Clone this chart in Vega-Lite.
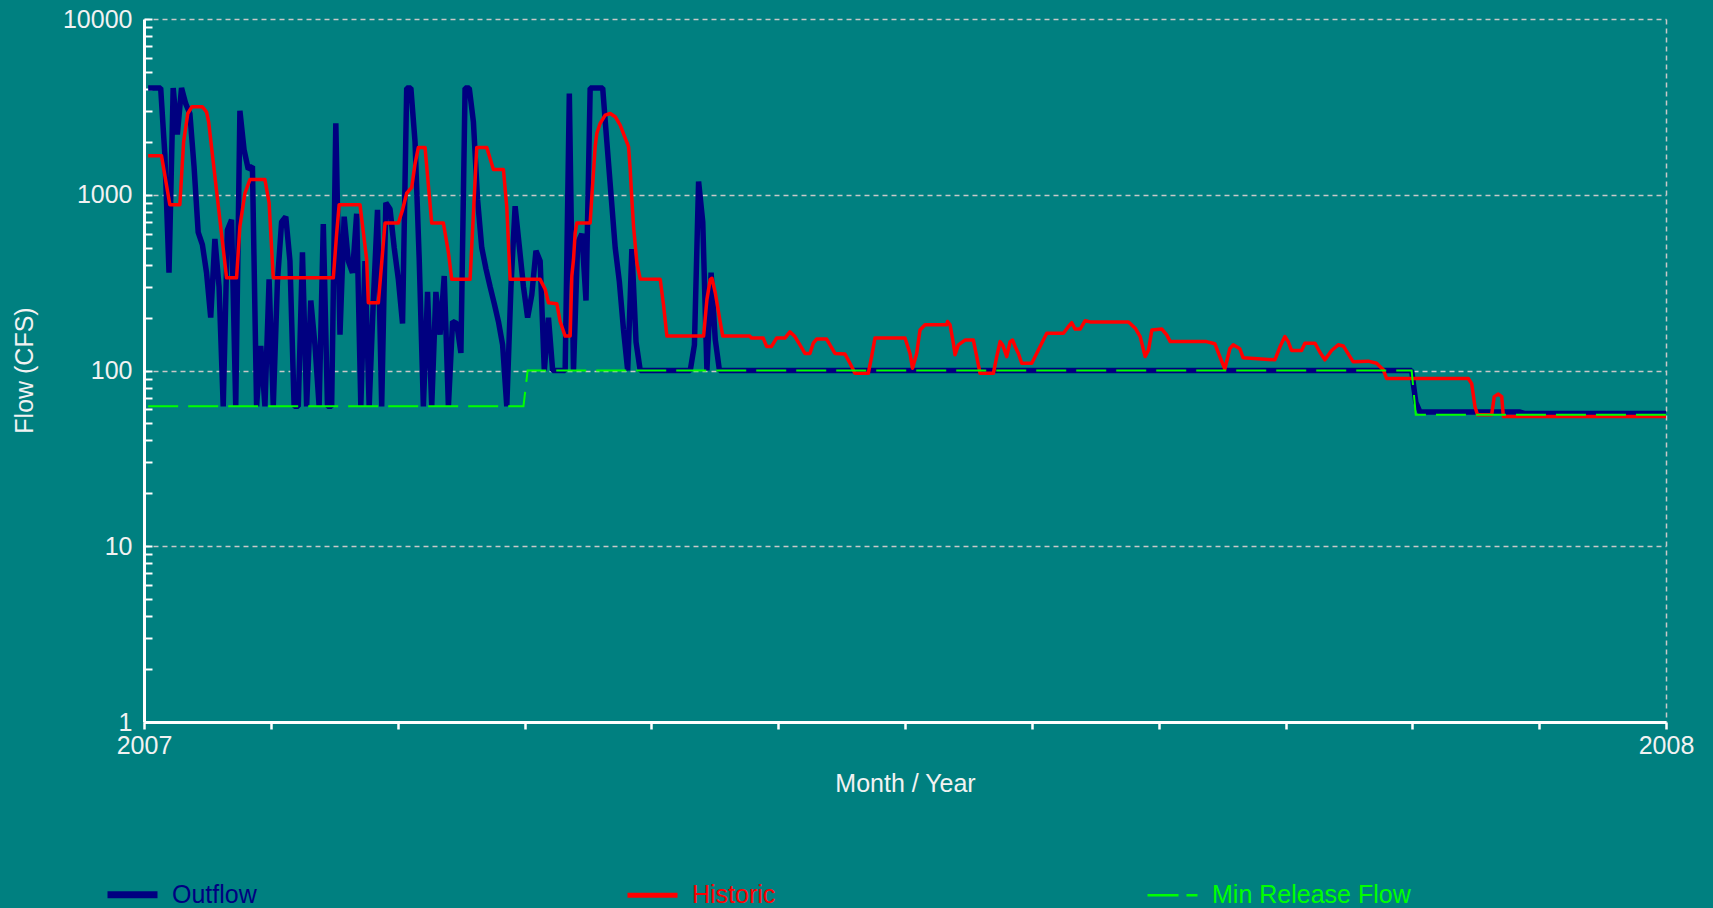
{
"$schema": "https://vega.github.io/schema/vega-lite/v6.json",
"width": 1522, "height": 703,
"autosize": {"type": "none"},
"padding": {"left": 144, "top": 19, "right": 47, "bottom": 186},
"background": "#008080",
"config": {"view": {"stroke": null}, "font": "Liberation Sans"},
"datasets": {
"outflow": [
{"day":1,"flow":4050},{"day":2,"flow":4050},{"day":3,"flow":4050},{"day":4,"flow":4050},{"day":5,"flow":1700},{"day":6,"flow":360},{"day":7,"flow":4050},{"day":8,"flow":2200},{"day":9,"flow":4050},{"day":10,"flow":3300},
{"day":11,"flow":2900},{"day":12,"flow":1450},{"day":13,"flow":610},{"day":14,"flow":520},{"day":15,"flow":360},{"day":16,"flow":200},{"day":17,"flow":560},{"day":18,"flow":300},{"day":19,"flow":62.5},{"day":20,"flow":630},
{"day":21,"flow":720},{"day":22,"flow":62.5},{"day":23,"flow":3000},{"day":24,"flow":1800},{"day":25,"flow":1400},{"day":26,"flow":1450},{"day":27,"flow":62.5},{"day":28,"flow":138},{"day":29,"flow":62.5},{"day":30,"flow":330},
{"day":31,"flow":62.5},{"day":32,"flow":320},{"day":33,"flow":700},{"day":34,"flow":750},{"day":35,"flow":420},{"day":36,"flow":62.5},{"day":37,"flow":62.5},{"day":38,"flow":470},{"day":39,"flow":62.5},{"day":40,"flow":250},
{"day":41,"flow":140},{"day":42,"flow":62.5},{"day":43,"flow":680},{"day":44,"flow":62.5},{"day":45,"flow":62.5},{"day":46,"flow":2550},{"day":47,"flow":160},{"day":48,"flow":750},{"day":49,"flow":420},{"day":50,"flow":360},
{"day":51,"flow":780},{"day":52,"flow":62.5},{"day":53,"flow":420},{"day":54,"flow":62.5},{"day":55,"flow":250},{"day":56,"flow":820},{"day":57,"flow":62.5},{"day":58,"flow":900},{"day":59,"flow":830},{"day":60,"flow":500},
{"day":61,"flow":330},{"day":62,"flow":185},{"day":63,"flow":4050},{"day":64,"flow":4050},{"day":65,"flow":2000},{"day":66,"flow":430},{"day":67,"flow":62.5},{"day":68,"flow":280},{"day":69,"flow":62.5},{"day":70,"flow":280},
{"day":71,"flow":160},{"day":72,"flow":345},{"day":73,"flow":62.5},{"day":74,"flow":190},{"day":75,"flow":185},{"day":76,"flow":126},{"day":77,"flow":4050},{"day":78,"flow":4050},{"day":79,"flow":2600},{"day":80,"flow":935},
{"day":81,"flow":500},{"day":82,"flow":380},{"day":83,"flow":300},{"day":84,"flow":240},{"day":85,"flow":190},{"day":86,"flow":140},{"day":87,"flow":62.5},{"day":88,"flow":300},{"day":89,"flow":860},{"day":90,"flow":510},
{"day":91,"flow":300},{"day":92,"flow":200},{"day":93,"flow":270},{"day":94,"flow":480},{"day":95,"flow":420},{"day":96,"flow":100},{"day":97,"flow":200},{"day":98,"flow":100},{"day":101,"flow":100},{"day":102,"flow":3770},
{"day":103,"flow":100},{"day":104,"flow":530},{"day":105,"flow":600},{"day":106,"flow":250},{"day":107,"flow":4050},{"day":110,"flow":4050},{"day":111,"flow":2000},{"day":112,"flow":1000},{"day":113,"flow":500},{"day":114,"flow":320},
{"day":115,"flow":170},{"day":116,"flow":100},{"day":117,"flow":490},{"day":118,"flow":145},{"day":119,"flow":100},{"day":131,"flow":100},{"day":132,"flow":140},{"day":133,"flow":1190},{"day":134,"flow":700},{"day":135,"flow":100},
{"day":136,"flow":360},{"day":137,"flow":150},{"day":138,"flow":100},{"day":304,"flow":100},{"day":305,"flow":66},{"day":306,"flow":58},{"day":330,"flow":58},{"day":331,"flow":57},{"day":365,"flow":57}
],
"historic": [
{"day":1,"flow":1665},{"day":4.2,"flow":1665},{"day":6.2,"flow":877},{"day":8.6,"flow":877},{"day":9.5,"flow":2000},{"day":10.5,"flow":2900},{"day":11.5,"flow":3170},{"day":14,"flow":3170},{"day":15,"flow":2950},{"day":15.5,"flow":2600},
{"day":19.8,"flow":337},{"day":22.2,"flow":337},{"day":23,"flow":660},{"day":24.2,"flow":1020},{"day":25.4,"flow":1220},{"day":29,"flow":1220},{"day":30,"flow":900},{"day":31,"flow":337},{"day":45.4,"flow":337},{"day":46.2,"flow":600},
{"day":46.8,"flow":877},{"day":51.8,"flow":877},{"day":53.4,"flow":428},{"day":53.8,"flow":243},{"day":56.2,"flow":243},{"day":57.8,"flow":690},{"day":61,"flow":690},{"day":62,"flow":820},{"day":63,"flow":1020},{"day":64.2,"flow":1100},
{"day":65,"flow":1500},{"day":65.8,"flow":1860},{"day":67.4,"flow":1860},{"day":69,"flow":690},{"day":71.8,"flow":690},{"day":73,"flow":470},{"day":73.8,"flow":330},{"day":78.2,"flow":330},{"day":79.8,"flow":1860},{"day":82.2,"flow":1860},
{"day":83.8,"flow":1390},{"day":86.2,"flow":1390},{"day":87,"flow":850},{"day":87.8,"flow":330},{"day":95,"flow":330},{"day":96.2,"flow":290},{"day":97,"flow":243},{"day":99,"flow":240},{"day":99.8,"flow":190},{"day":101,"flow":157},
{"day":102.2,"flow":157},{"day":102.6,"flow":345},{"day":103,"flow":428},{"day":103.4,"flow":606},{"day":103.8,"flow":690},{"day":107,"flow":691},{"day":107.4,"flow":978},{"day":108.2,"flow":1880},{"day":108.6,"flow":2240},{"day":109.4,"flow":2550},
{"day":110.6,"flow":2840},{"day":111.8,"flow":2900},{"day":113,"flow":2780},{"day":114.2,"flow":2490},{"day":115.4,"flow":2100},{"day":116.2,"flow":1880},{"day":116.6,"flow":1390},{"day":117,"flow":937},{"day":117.4,"flow":661},{"day":118.2,"flow":410},
{"day":119,"flow":332},{"day":123.8,"flow":330},{"day":124.6,"flow":235},{"day":125.4,"flow":157},{"day":134.2,"flow":157},{"day":135,"flow":254},{"day":135.8,"flow":330},{"day":136.2,"flow":335},{"day":137,"flow":277},{"day":138.2,"flow":188},
{"day":138.8,"flow":157},{"day":145.3,"flow":157},{"day":145.7,"flow":153},{"day":148.5,"flow":153},{"day":149.3,"flow":137},{"day":150.5,"flow":137},{"day":151.7,"flow":153},{"day":153.7,"flow":153},{"day":154.9,"flow":166},{"day":156.1,"flow":156},
{"day":157.3,"flow":140},{"day":158.5,"flow":125},{"day":159.7,"flow":125},{"day":160.5,"flow":143},{"day":161.3,"flow":151},{"day":163.7,"flow":151},{"day":164.5,"flow":140},{"day":165.7,"flow":125},{"day":168.1,"flow":124},{"day":169.3,"flow":110},
{"day":170.5,"flow":96.4},{"day":173.7,"flow":96.4},{"day":174.5,"flow":120},{"day":175.3,"flow":153},{"day":182.5,"flow":153},{"day":183.7,"flow":125},{"day":184.3,"flow":103},{"day":185.3,"flow":125},{"day":186.1,"flow":170},{"day":187.3,"flow":182},
{"day":192.5,"flow":182},{"day":192.7,"flow":190},{"day":193.3,"flow":182},{"day":194.1,"flow":143},{"day":194.5,"flow":123},{"day":195.3,"flow":140},{"day":196.9,"flow":149},{"day":198.9,"flow":149},{"day":199.7,"flow":120},{"day":200.5,"flow":96.4},
{"day":203.7,"flow":96.4},{"day":204.5,"flow":120},{"day":205.3,"flow":146},{"day":205.9,"flow":140},{"day":206.9,"flow":120},{"day":207.7,"flow":146},{"day":208.3,"flow":149},{"day":208.9,"flow":137},{"day":209.7,"flow":125},{"day":210.5,"flow":110},
{"day":212.9,"flow":110},{"day":213.7,"flow":120},{"day":214.9,"flow":137},{"day":216.1,"flow":156},{"day":216.5,"flow":163},{"day":220.5,"flow":163},{"day":221.7,"flow":178},{"day":222.5,"flow":187},{"day":223.3,"flow":172},{"day":224.5,"flow":172},
{"day":225.7,"flow":192},{"day":226.9,"flow":189},{"day":236.1,"flow":189},{"day":237.7,"flow":174},{"day":238.9,"flow":156},{"day":240.1,"flow":120},{"day":240.9,"flow":131},{"day":241.7,"flow":170},{"day":244.1,"flow":172},{"day":245.3,"flow":159},
{"day":246.1,"flow":146},{"day":254.8,"flow":146},{"day":256.8,"flow":142},{"day":258,"flow":120},{"day":259.2,"flow":102},{"day":260.4,"flow":133},{"day":261.2,"flow":140},{"day":262.8,"flow":133},{"day":263.6,"flow":118},{"day":271.2,"flow":115},
{"day":272.4,"flow":136},{"day":273.6,"flow":156},{"day":274.4,"flow":146},{"day":275.2,"flow":130},{"day":277.6,"flow":130},{"day":278.4,"flow":143},{"day":280.8,"flow":143},{"day":282,"flow":127},{"day":283.2,"flow":115},{"day":284.8,"flow":130},
{"day":286.4,"flow":140},{"day":287.6,"flow":138},{"day":289.2,"flow":120},{"day":290,"flow":112},{"day":293.6,"flow":113},{"day":295.6,"flow":110},{"day":297.2,"flow":101},{"day":298,"flow":90},{"day":317.6,"flow":90},{"day":318.4,"flow":84},
{"day":319.2,"flow":62},{"day":319.8,"flow":56},{"day":323.2,"flow":56},{"day":323.8,"flow":71},{"day":324.8,"flow":73.5},{"day":325.6,"flow":71},{"day":326,"flow":54.7},{"day":365,"flow":54.7}
],
"minrelease": [
{"day":1,"flow":62.5},{"day":91,"flow":62.5},{"day":92,"flow":100},{"day":304,"flow":100},{"day":305,"flow":56},{"day":365,"flow":56}
]
},
"encoding": {
"x": {"field": "day", "type": "quantitative",
 "scale": {"domain": [0, 365], "nice": false, "zero": false},
 "axis": {"values": [0, 30.4167, 60.8333, 91.25, 121.6667, 152.0833, 182.5, 212.9167, 243.3333, 273.75, 304.1667, 334.5833, 365],
  "labelExpr": "datum.value == 0 ? '2007' : (datum.value == 365 ? '2008' : '')",
  "labelFlush": false, "labelOverlap": false, "labelFontSize": 25, "labelColor": "#f2f2f2", "labelPadding": 4,
  "tickSize": 7, "tickWidth": 2.5, "tickColor": "#ffffff", "domainColor": "#ffffff", "domainWidth": 3,
  "grid": true, "gridColor": "#c8c8c8", "gridDash": [5, 4], "gridWidth": 1.5,
  "gridOpacity": {"condition": {"test": "datum.value == 365", "value": 1}, "value": 0},
  "title": "Month / Year", "titleFontSize": 25, "titleFontWeight": "normal", "titleColor": "#f2f2f2",
  "titleX": 761, "titleY": 61, "titleBaseline": "middle", "titleAlign": "center"}},
"y": {"field": "flow", "type": "quantitative",
 "scale": {"type": "log", "domain": [1, 10000], "nice": false},
 "axis": {"values": [1,2,3,4,5,6,7,8,9,10,20,30,40,50,60,70,80,90,100,200,300,400,500,600,700,800,900,1000,2000,3000,4000,5000,6000,7000,8000,9000,10000],
  "labelExpr": "indexof([1,10,100,1000,10000], datum.value) >= 0 ? format(datum.value, 'd') : ''",
  "labelOverlap": false, "labelFontSize": 25, "labelColor": "#f2f2f2", "labelPadding": 20,
  "tickSize": -8, "tickWidth": 2, "tickColor": "#ffffff", "domainColor": "#ffffff", "domainWidth": 3,
  "grid": true, "gridColor": "#c8c8c8", "gridDash": [5, 4], "gridWidth": 1.5,
  "gridOpacity": {"condition": {"test": "indexof([10,100,1000,10000], datum.value) >= 0", "value": 1}, "value": 0},
  "title": "Flow (CFS)", "titleFontSize": 25, "titleFontWeight": "normal", "titleColor": "#f2f2f2",
  "titleX": -120, "titleY": 351, "titleAngle": 270, "titleBaseline": "middle", "titleAlign": "center"}},
"color": {"field": "series", "type": "nominal",
 "scale": {"domain": ["Outflow", "Historic", "Min Release Flow"], "range": ["#000080", "#ff0000", "#00ff00"]},
 "legend": {"orient": "none", "legendX": -24, "legendY": 863, "direction": "horizontal", "columns": 3, "title": null,
  "symbolType": "stroke", "symbolSize": 2500, "labelFontSize": 25, "labelOffset": 27, "labelLimit": 400,
  "columnPadding": 246, "gridAlign": "all", "padding": 0,
  "encode": {"labels": {"update": {"fill": {"scale": "color", "field": "value"}}},
   "symbols": {"update": {"strokeWidth": {"signal": "datum.value == 'Outflow' ? 7 : (datum.value == 'Historic' ? 5 : 2.5)"},
    "strokeDash": {"signal": "datum.value == 'Min Release Flow' ? [31, 8] : [1, 0]"}}}}}}
},
"layer": [
{"data": {"name": "outflow"}, "transform": [{"calculate": "'Outflow'", "as": "series"}],
 "mark": {"type": "line", "strokeWidth": 5.5, "strokeJoin": "bevel", "strokeCap": "butt"}},
{"data": {"name": "historic"}, "transform": [{"calculate": "'Historic'", "as": "series"}],
 "mark": {"type": "line", "strokeWidth": 3.5, "strokeJoin": "round"}},
{"data": {"name": "minrelease"}, "transform": [{"calculate": "'Min Release Flow'", "as": "series"}],
 "mark": {"type": "line", "strokeWidth": 2, "strokeDash": [30, 10]}}
]
}
